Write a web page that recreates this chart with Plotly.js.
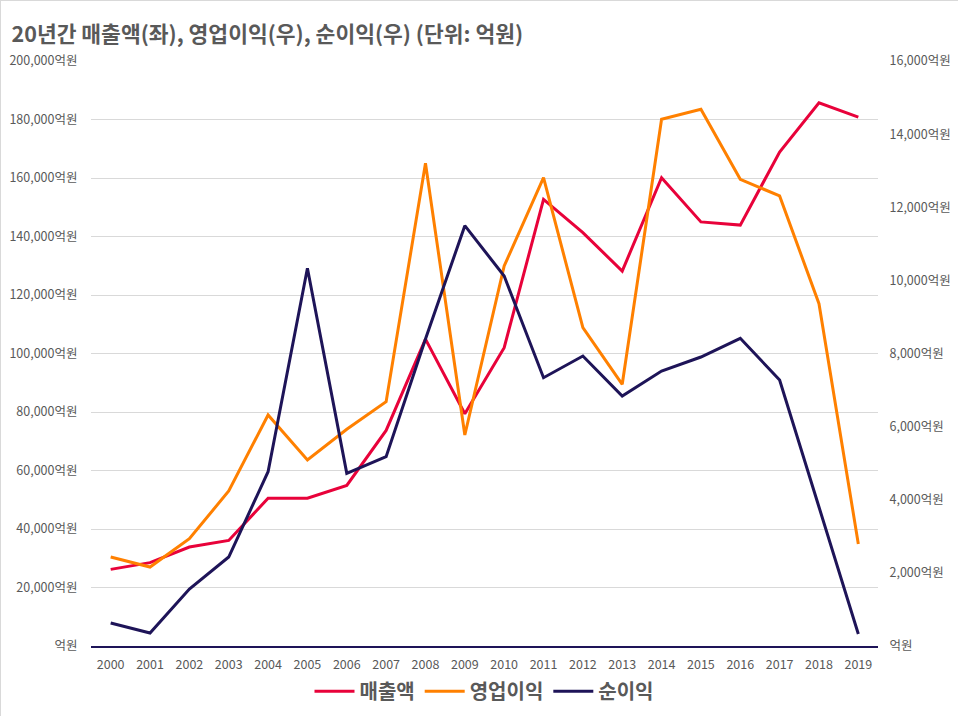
<!DOCTYPE html>
<html>
<head>
<meta charset="utf-8">
<script src="https://cdn.plot.ly/plotly-3.0.1.min.js"></script>
<style>
  body { margin: 0; background: #fff; }
  #plot { width: 958px; height: 716px; box-sizing: border-box; border: 1px solid #d9d9d9; }
</style>
</head>
<body>
<div id="plot"></div>
<script>
// years on the x axis
var years = ['2000','2001','2002','2003','2004','2005','2006','2007','2008','2009',
             '2010','2011','2012','2013','2014','2015','2016','2017','2018','2019'];

// 매출액 (left axis, 억원)
var sales = [26200, 28500, 33850, 36100, 50500, 50500, 54900, 73700, 104900, 79400,
             102000, 152700, 141300, 128200, 160100, 145000, 143900, 168900, 185700, 180800];

// 영업이익 (right axis, 억원)
var opProfit = [2434, 2160, 2935, 4239, 6318, 5087, 5927, 6682, 13202, 5771,
                10393, 12808, 8706, 7158, 14406, 14679, 12765, 12308, 9362, 2790];

// 순이익 (right axis, 억원)
var netProfit = [629, 356, 1559, 2434, 4767, 10330, 4723, 5177, 8397, 11496,
                 10120, 7338, 7932, 6838, 7521, 7904, 8416, 7275, 3802, 328];

var leftTicks = [0, 20000, 40000, 60000, 80000, 100000, 120000, 140000, 160000, 180000, 200000];
var rightTicks = [0, 2000, 4000, 6000, 8000, 10000, 12000, 14000, 16000];

function label(v) {
  if (v === 0) return '억원';
  return v.toLocaleString('en-US') + '억원';
}

var FONT = '"Noto Sans CJK KR", "Noto Sans", sans-serif';
var TEXT = '#595959';
var CLEAR = 'rgba(0,0,0,0)';

var traces = [
  { x: years, y: sales, name: '매출액', mode: 'lines', yaxis: 'y',
    line: { color: '#E8023A', width: 3 } },
  { x: years, y: opProfit, name: '영업이익', mode: 'lines', yaxis: 'y2',
    line: { color: '#FF8000', width: 3 } },
  { x: years, y: netProfit, name: '순이익', mode: 'lines', yaxis: 'y2',
    line: { color: '#1E1458', width: 3 } }
];

var layout = {
  width: 958, height: 716,
  margin: { l: 90, r: 81, t: 60, b: 71, autoexpand: false },
  paper_bgcolor: '#fff', plot_bgcolor: '#fff',
  font: { family: FONT, color: TEXT, size: 12.5 },
  title: { text: '<b>20년간 매출액(좌), 영업이익(우), 순이익(우) (단위: 억원)</b>',
           x: 0.011, xanchor: 'left', y: 0.953, yanchor: 'middle',
           font: { size: 21.5, color: TEXT, family: FONT } },
  showlegend: true,
  legend: { orientation: 'h', x: 0.5, xanchor: 'center', xref: 'paper',
            y: 0.036, yref: 'container', yanchor: 'middle',
            font: { size: 20, color: TEXT, family: FONT }, itemwidth: 40, tracegroupgap: 0 },
  xaxis: { type: 'category', range: [-0.5, 19.5], showgrid: false, showline: true,
           linecolor: '#1E1458', linewidth: 1.5,
           ticks: 'outside', ticklen: 6, tickcolor: CLEAR,
           tickfont: { size: 12.5, color: TEXT } },
  yaxis: { range: [0, 200000], tickvals: leftTicks, ticktext: leftTicks.map(label),
           showgrid: true, gridcolor: '#d9d9d9', gridwidth: 1, zeroline: false,
           ticks: 'outside', ticklen: 10, tickcolor: CLEAR, tickfont: { size: 12.5, color: TEXT } },
  yaxis2: { range: [0, 16000], tickvals: rightTicks, ticktext: rightTicks.map(label),
            overlaying: 'y', side: 'right', showgrid: false, zeroline: false,
            ticks: 'outside', ticklen: 8, tickcolor: CLEAR, tickfont: { size: 12.5, color: TEXT } }
};

Plotly.newPlot('plot', traces, layout, { displayModeBar: false, staticPlot: true }).then(function () {
  // legend labels are bold in the reference
  document.querySelectorAll('.legendtext').forEach(function (t) { t.style.fontWeight = 'bold'; });
});
</script>
</body>
</html>
